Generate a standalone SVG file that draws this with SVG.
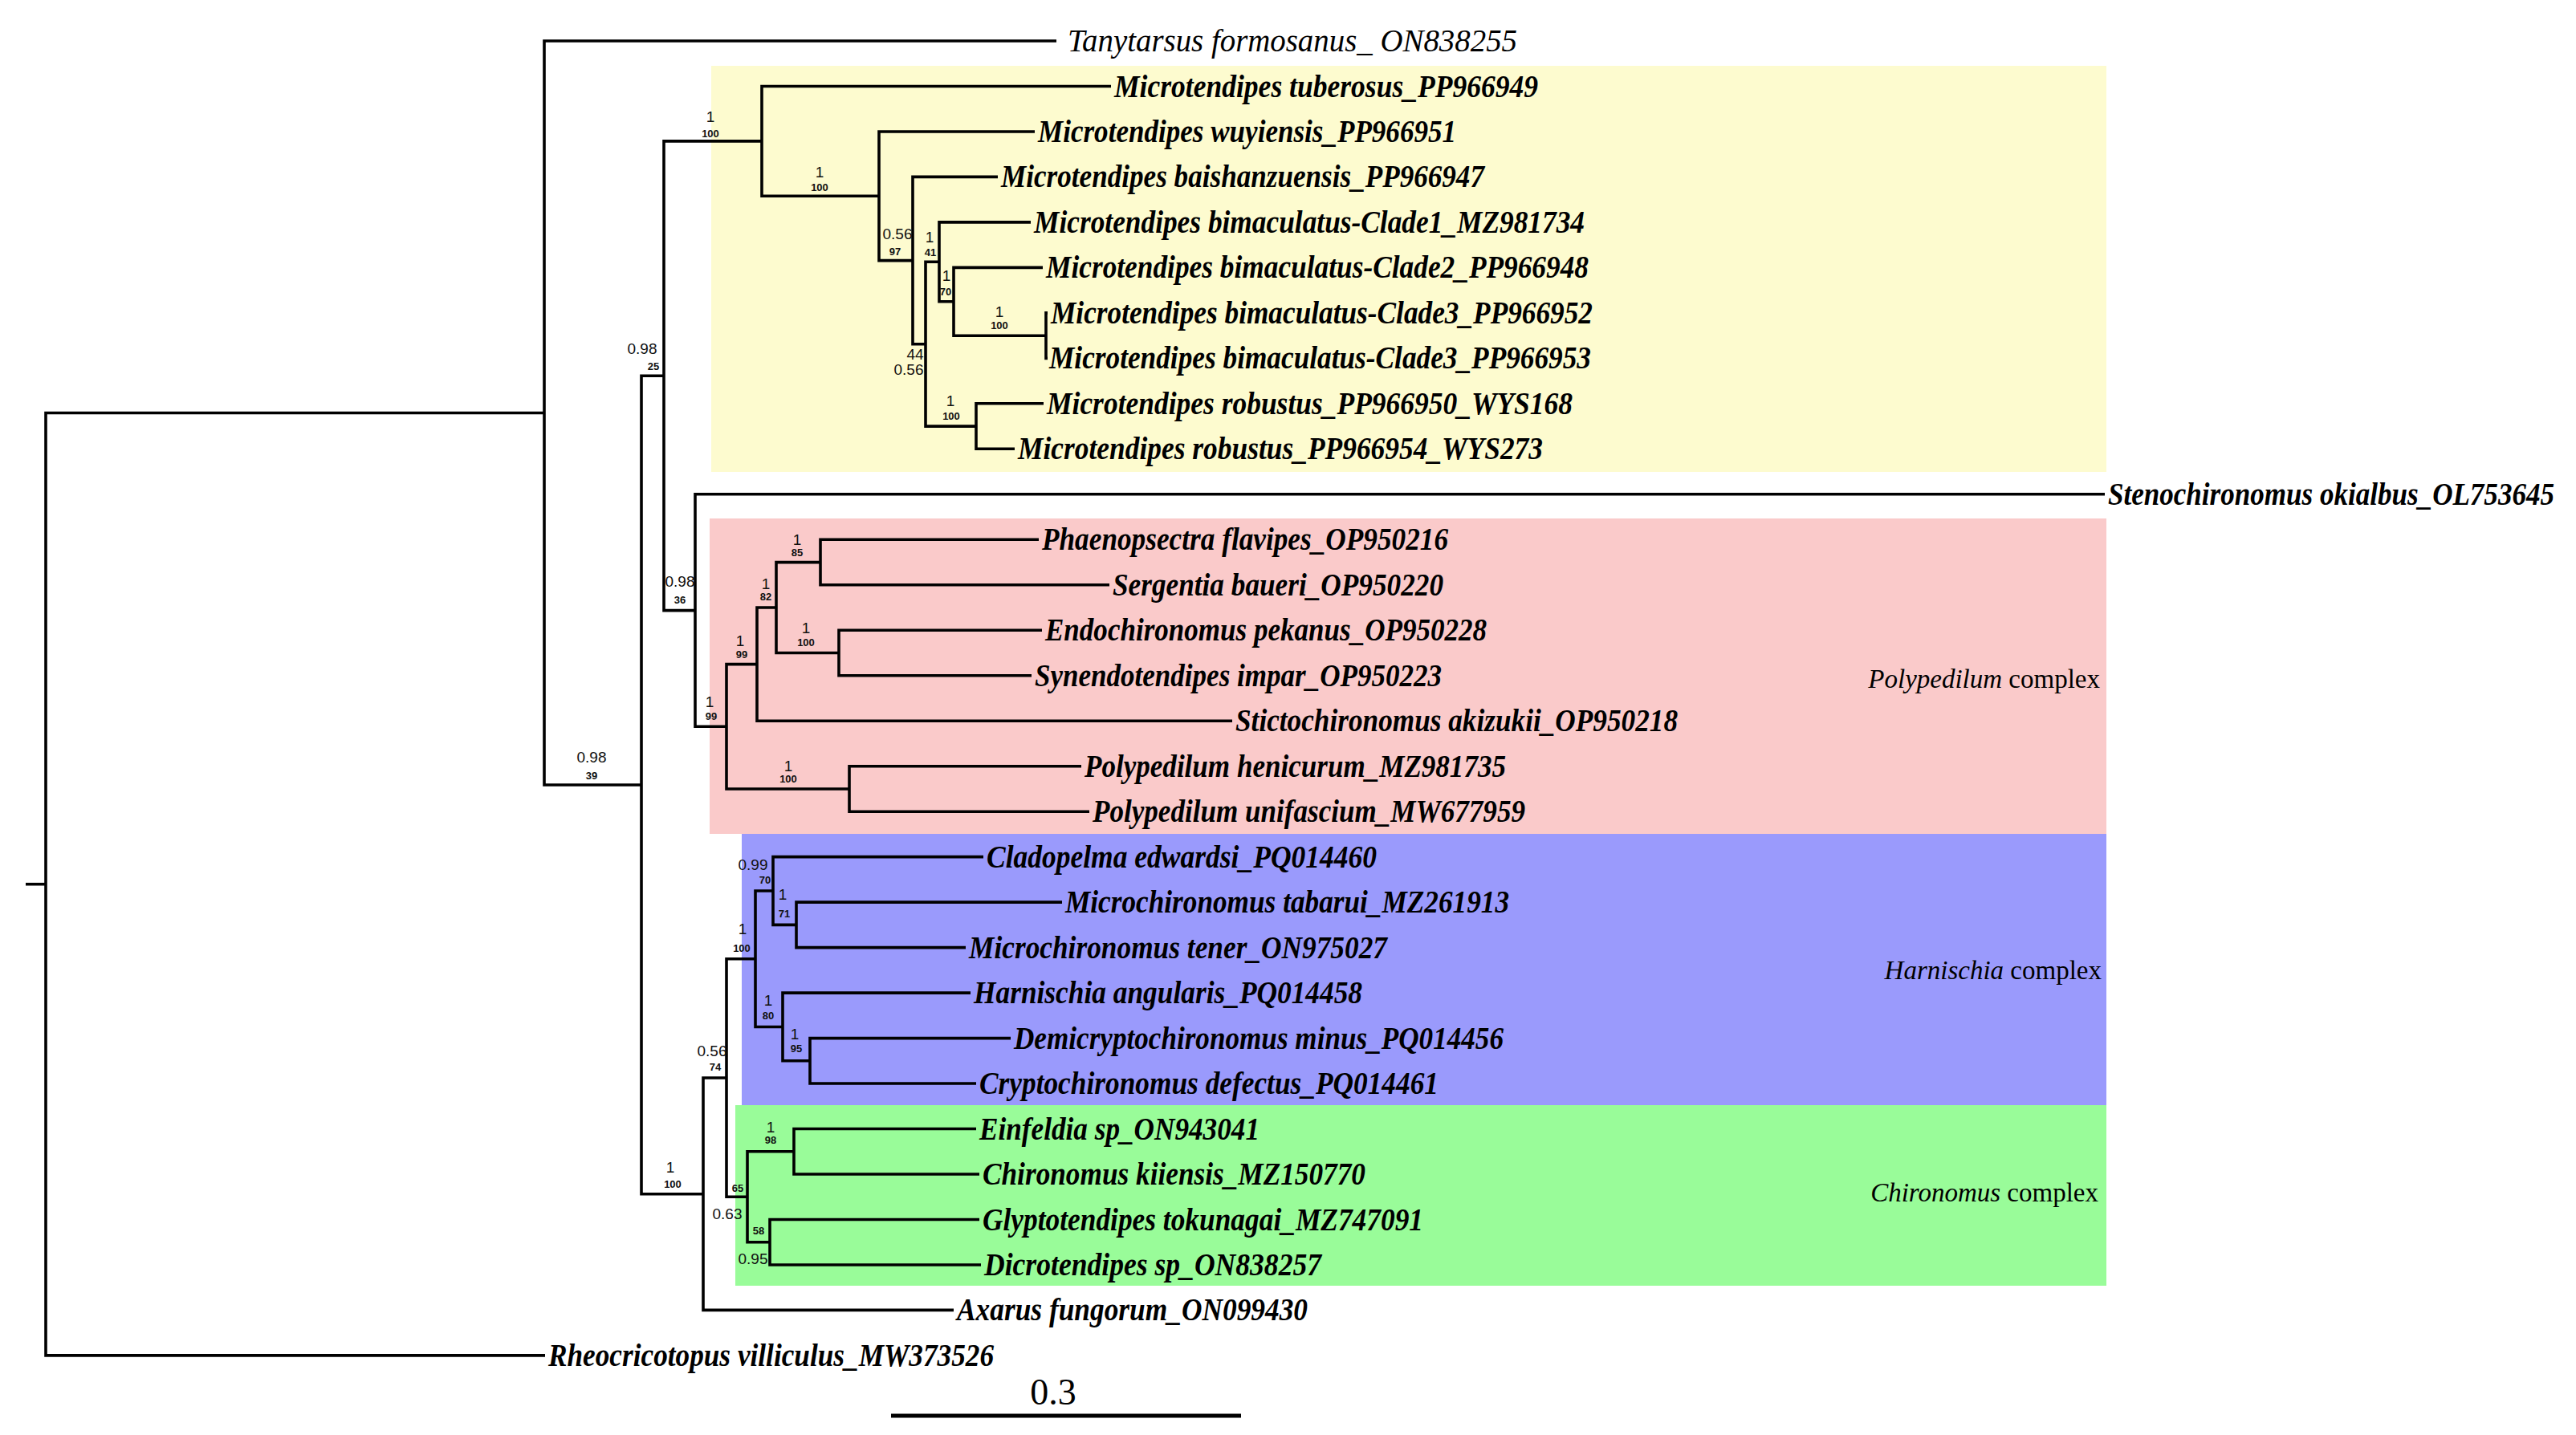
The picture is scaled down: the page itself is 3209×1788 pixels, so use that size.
<svg xmlns="http://www.w3.org/2000/svg" width="3209" height="1788" viewBox="0 0 3209 1788">
<style>
.br{fill:none;stroke:#000;stroke-width:3.6;stroke-linejoin:miter;stroke-linecap:butt}
.tb{font-family:"Liberation Serif","Times New Roman",serif;font-style:italic;font-weight:bold;font-size:39px;fill:#000}
.tr{font-family:"Liberation Serif","Times New Roman",serif;font-style:italic;font-weight:normal;font-size:39px;fill:#000}
.pp{font-family:"Liberation Sans",Arial,sans-serif;font-size:19px;fill:#111;text-anchor:middle}
.bs{font-family:"Liberation Sans",Arial,sans-serif;font-size:13px;font-weight:bold;fill:#111;text-anchor:middle}
.grp{font-family:"Liberation Serif","Times New Roman",serif;font-size:33px;fill:#000;text-anchor:end}
.it{font-style:italic}
</style>
<rect x="0" y="0" width="3209" height="1788" fill="#fff"/>
<g id="clade-boxes">
<rect id="box-microtendipes" x="886" y="82" width="1738" height="506" fill="#FDFBCF"/>
<rect id="box-polypedilum" x="884" y="646" width="1740" height="393" fill="#FACACA"/>
<rect id="box-harnischia" x="924" y="1039" width="1700" height="338" fill="#9A9AFC"/>
<rect id="box-chironomus" x="916" y="1377" width="1708" height="225" fill="#99FC99"/>
</g>
<g id="connectors">
<path class="br" d="M679 1688.9 H57 V514.5 H678"/>
<path class="br" d="M32 1101.7 H57"/>
<path class="br" d="M1316 51 H678 V978 H799"/>
<path class="br" d="M827 468.2 H799 V1487.7 H876"/>
<path class="br" d="M949 175.9 H827 V760.6 H866"/>
<path class="br" d="M1384 107.5 H949 V244.3 H1095"/>
<path class="br" d="M1289 164 H1095 V324.6 H1137"/>
<path class="br" d="M1243 220.4 H1137 V428.7 H1153"/>
<path class="br" d="M1170 326.3 H1153 V531.1 H1216"/>
<path class="br" d="M1284 276.9 H1170 V375.8 H1188"/>
<path class="br" d="M1299 333.4 H1188 V418.2 H1303"/>
<path class="br" d="M1305 389.9 H1303 V446.4 H1305"/>
<path class="br" d="M1300 502.8 H1216 V559.3 H1264"/>
<path class="br" d="M2622 615.8 H866 V905.3 H905"/>
<path class="br" d="M943 827.6 H905 V983 H1058"/>
<path class="br" d="M967 757 H943 V898.2 H1535"/>
<path class="br" d="M1022 700.6 H967 V813.5 H1045"/>
<path class="br" d="M1294 672.3 H1022 V728.8 H1382"/>
<path class="br" d="M1298 785.2 H1045 V841.7 H1285"/>
<path class="br" d="M1347 954.7 H1058 V1011.2 H1357"/>
<path class="br" d="M905 1343 H876 V1632.4 H1188"/>
<path class="br" d="M941 1194.7 H905 V1491.3 H931"/>
<path class="br" d="M963 1110 H941 V1279.5 H975"/>
<path class="br" d="M1225 1067.6 H963 V1152.4 H992"/>
<path class="br" d="M1323 1124.1 H992 V1180.6 H1203"/>
<path class="br" d="M1209 1237.1 H975 V1321.8 H1009"/>
<path class="br" d="M1259 1293.6 H1009 V1350 H1216"/>
<path class="br" d="M989 1434.8 H931 V1547.8 H959"/>
<path class="br" d="M1216 1406.5 H989 V1463 H1220"/>
<path class="br" d="M1220 1519.5 H959 V1576 H1222"/>
</g>
<g id="tips">
<g id="t00"><text class="tr" x="1330" y="64" textLength="560" lengthAdjust="spacingAndGlyphs">Tanytarsus formosanus_ ON838255</text></g>
<g id="t01"><text class="tb" x="1388" y="120.5" textLength="528" lengthAdjust="spacingAndGlyphs">Microtendipes tuberosus_PP966949</text></g>
<g id="t02"><text class="tb" x="1293" y="177" textLength="521" lengthAdjust="spacingAndGlyphs">Microtendipes wuyiensis_PP966951</text></g>
<g id="t03"><text class="tb" x="1247" y="233.4" textLength="602" lengthAdjust="spacingAndGlyphs">Microtendipes baishanzuensis_PP966947</text></g>
<g id="t04"><text class="tb" x="1288" y="289.9" textLength="686" lengthAdjust="spacingAndGlyphs">Microtendipes bimaculatus-Clade1_MZ981734</text></g>
<g id="t05"><text class="tb" x="1303" y="346.4" textLength="676" lengthAdjust="spacingAndGlyphs">Microtendipes bimaculatus-Clade2_PP966948</text></g>
<g id="t06"><text class="tb" x="1309" y="402.9" textLength="675" lengthAdjust="spacingAndGlyphs">Microtendipes bimaculatus-Clade3_PP966952</text></g>
<g id="t07"><text class="tb" x="1307" y="459.4" textLength="675" lengthAdjust="spacingAndGlyphs">Microtendipes bimaculatus-Clade3_PP966953</text></g>
<g id="t08"><text class="tb" x="1304" y="515.8" textLength="655" lengthAdjust="spacingAndGlyphs">Microtendipes robustus_PP966950_WYS168</text></g>
<g id="t09"><text class="tb" x="1268" y="572.3" textLength="654" lengthAdjust="spacingAndGlyphs">Microtendipes robustus_PP966954_WYS273</text></g>
<g id="t10"><text class="tb" x="2626" y="628.8" textLength="556" lengthAdjust="spacingAndGlyphs">Stenochironomus okialbus_OL753645</text></g>
<g id="t11"><text class="tb" x="1298" y="685.3" textLength="506" lengthAdjust="spacingAndGlyphs">Phaenopsectra flavipes_OP950216</text></g>
<g id="t12"><text class="tb" x="1386" y="741.8" textLength="412" lengthAdjust="spacingAndGlyphs">Sergentia baueri_OP950220</text></g>
<g id="t13"><text class="tb" x="1302" y="798.2" textLength="550" lengthAdjust="spacingAndGlyphs">Endochironomus pekanus_OP950228</text></g>
<g id="t14"><text class="tb" x="1289" y="854.7" textLength="507" lengthAdjust="spacingAndGlyphs">Synendotendipes impar_OP950223</text></g>
<g id="t15"><text class="tb" x="1539" y="911.2" textLength="551" lengthAdjust="spacingAndGlyphs">Stictochironomus akizukii_OP950218</text></g>
<g id="t16"><text class="tb" x="1351" y="967.7" textLength="525" lengthAdjust="spacingAndGlyphs">Polypedilum henicurum_MZ981735</text></g>
<g id="t17"><text class="tb" x="1361" y="1024.2" textLength="539" lengthAdjust="spacingAndGlyphs">Polypedilum unifascium_MW677959</text></g>
<g id="t18"><text class="tb" x="1229" y="1080.6" textLength="486" lengthAdjust="spacingAndGlyphs">Cladopelma edwardsi_PQ014460</text></g>
<g id="t19"><text class="tb" x="1327" y="1137.1" textLength="553" lengthAdjust="spacingAndGlyphs">Microchironomus tabarui_MZ261913</text></g>
<g id="t20"><text class="tb" x="1207" y="1193.6" textLength="521" lengthAdjust="spacingAndGlyphs">Microchironomus tener_ON975027</text></g>
<g id="t21"><text class="tb" x="1213" y="1250.1" textLength="484" lengthAdjust="spacingAndGlyphs">Harnischia angularis_PQ014458</text></g>
<g id="t22"><text class="tb" x="1263" y="1306.6" textLength="610" lengthAdjust="spacingAndGlyphs">Demicryptochironomus minus_PQ014456</text></g>
<g id="t23"><text class="tb" x="1220" y="1363" textLength="572" lengthAdjust="spacingAndGlyphs">Cryptochironomus defectus_PQ014461</text></g>
<g id="t24"><text class="tb" x="1220" y="1419.5" textLength="349" lengthAdjust="spacingAndGlyphs">Einfeldia sp_ON943041</text></g>
<g id="t25"><text class="tb" x="1224" y="1476" textLength="477" lengthAdjust="spacingAndGlyphs">Chironomus kiiensis_MZ150770</text></g>
<g id="t26"><text class="tb" x="1224" y="1532.5" textLength="549" lengthAdjust="spacingAndGlyphs">Glyptotendipes tokunagai_MZ747091</text></g>
<g id="t27"><text class="tb" x="1226" y="1589" textLength="420" lengthAdjust="spacingAndGlyphs">Dicrotendipes sp_ON838257</text></g>
<g id="t28"><text class="tb" x="1192" y="1645.4" textLength="437" lengthAdjust="spacingAndGlyphs">Axarus fungorum_ON099430</text></g>
<g id="t29"><text class="tb" x="683" y="1701.9" textLength="555" lengthAdjust="spacingAndGlyphs">Rheocricotopus villiculus_MW373526</text></g>
</g>
<g id="support">
<g id="n-D"><text class="pp" x="885" y="152">1</text><text class="bs" x="885" y="171">100</text></g>
<g id="n-C"><text class="pp" x="800" y="441">0.98</text><text class="bs" x="814" y="461">25</text></g>
<g id="n-B"><text class="pp" x="737" y="950">0.98</text><text class="bs" x="737" y="971">39</text></g>
<g id="n-E"><text class="pp" x="847" y="731">0.98</text><text class="bs" x="847" y="752">36</text></g>
<g id="n-F"><text class="pp" x="884" y="881">1</text><text class="bs" x="886" y="897">99</text></g>
<g id="n-G"><text class="pp" x="922" y="805">1</text><text class="bs" x="924" y="820">99</text></g>
<g id="n-H"><text class="pp" x="954" y="734">1</text><text class="bs" x="954" y="748">82</text></g>
<g id="n-P1"><text class="pp" x="993" y="679">1</text><text class="bs" x="993" y="693">85</text></g>
<g id="n-P2"><text class="pp" x="1004" y="789">1</text><text class="bs" x="1004" y="805">100</text></g>
<g id="n-P3"><text class="pp" x="982" y="961">1</text><text class="bs" x="982" y="975">100</text></g>
<g id="n-D2"><text class="pp" x="1021" y="221">1</text><text class="bs" x="1021" y="238">100</text></g>
<g id="n-D3"><text class="pp" x="1118" y="298">0.56</text><text class="bs" x="1115" y="318">97</text></g>
<g id="n-D5"><text class="pp" x="1158" y="302">1</text><text class="bs" x="1159" y="319">41</text></g>
<g id="n-D4"><text class="pp" x="1140" y="448">44</text><text class="pp" x="1132" y="467">0.56</text></g>
<g id="n-D6"><text class="pp" x="1179" y="350">1</text><text class="bs" x="1178" y="368">70</text></g>
<g id="n-D7"><text class="pp" x="1245" y="395">1</text><text class="bs" x="1245" y="410">100</text></g>
<g id="n-D8"><text class="pp" x="1184" y="506">1</text><text class="bs" x="1185" y="523">100</text></g>
<g id="n-L"><text class="pp" x="925" y="1164">1</text><text class="bs" x="924" y="1186">100</text></g>
<g id="n-N2"><text class="pp" x="938" y="1084">0.99</text><text class="bs" x="953" y="1101">70</text></g>
<g id="n-N1"><text class="pp" x="975" y="1121">1</text><text class="bs" x="977" y="1143">71</text></g>
<g id="n-N4"><text class="pp" x="957" y="1253">1</text><text class="bs" x="957" y="1270">80</text></g>
<g id="n-N3"><text class="pp" x="990" y="1295">1</text><text class="bs" x="992" y="1311">95</text></g>
<g id="n-K"><text class="pp" x="887" y="1316">0.56</text><text class="bs" x="891" y="1334">74</text></g>
<g id="n-J"><text class="pp" x="835" y="1461">1</text><text class="bs" x="838" y="1480">100</text></g>
<g id="n-M"><text class="bs" x="919" y="1485">65</text><text class="pp" x="906" y="1519">0.63</text></g>
<g id="n-C1"><text class="pp" x="960" y="1411">1</text><text class="bs" x="960" y="1425">98</text></g>
<g id="n-C2"><text class="bs" x="945" y="1538">58</text><text class="pp" x="938" y="1575">0.95</text></g>
</g>
<g id="group-labels">
<text class="grp" x="2616" y="857"><tspan class="it">Polypedilum</tspan> complex</text>
<text class="grp" x="2618" y="1220"><tspan class="it">Harnischia</tspan> complex</text>
<text class="grp" x="2614" y="1497"><tspan class="it">Chironomus</tspan> complex</text>
</g>
<g id="scale-bar">
<line x1="1110" y1="1764" x2="1546" y2="1764" stroke="#000" stroke-width="5"/>
<text x="1312" y="1750" font-family="'Liberation Serif','Times New Roman',serif" font-size="46" text-anchor="middle">0.3</text>
</g>
</svg>
